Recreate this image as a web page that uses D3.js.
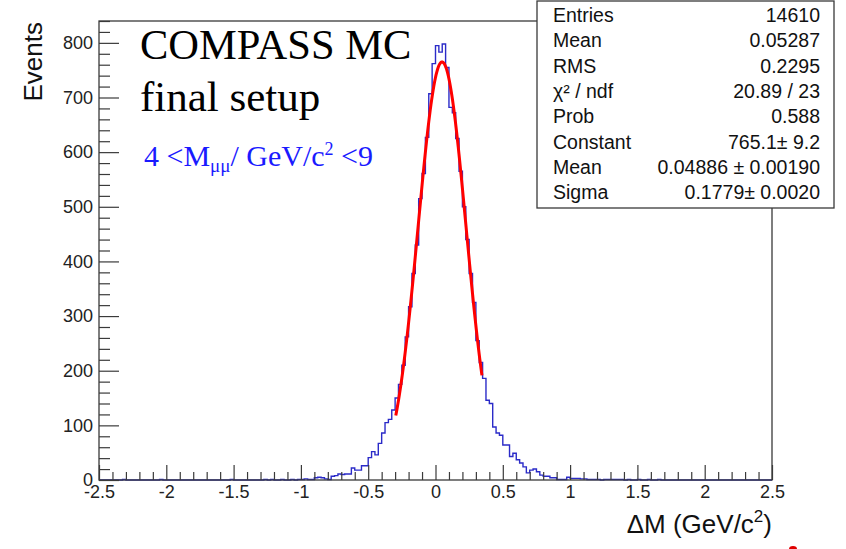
<!DOCTYPE html>
<html>
<head>
<meta charset="utf-8">
<script src="https://cdn.jsdelivr.net/npm/d3@7"></script>
<style>
  body { margin: 0; background: #fff; }
  svg text { font-family: "Liberation Sans", Arial, sans-serif; }
  .serif { font-family: "Liberation Serif", "Times New Roman", serif !important; }
</style>
</head>
<body>
<div id="chart"></div>
<script>
// histogram: 200 bins of width 0.025 from -2.5 to 2.5
const binStart = -2.5, binWidth = 0.025;
const counts = [
  0,0,0,0,0,0,0,1,0,0, 0,0,0,0,0,0,0,0,1,0,
  0,0,0,0,0,0,0,0,0,0, 0,0,0,0,0,0,0,0,0,1,
  0,0,0,0,0,0,0,0,0,1, 0,1,0,0,1,0,0,1,0,1,
  1,2,1,1,4,5,4,2,1,7, 8,11,10,11,11,22,18,18,26,26,
  41,52,46,67,86,105,111,128,150,175, 210,262,317,378,430,515,561,627,707,762,
  795,783,798,755,682,672,625,565,500,440, 378,325,255,215,186,146,140,97,86,82,
  64,64,43,49,37,31,24,13,18,20, 15,9,7,7,4,4,1,1,1,5,
  3,3,3,2,2,1,1,1,1,0, 1,1,1,1,1,1,0,1,0,0,
  1,0,0,1,0,0,1,0,0,0, 0,0,0,0,0,0,0,0,0,0,
  0,0,0,0,0,0,0,0,0,0, 0,0,0,0,0,0,0,0,0,0
];

const xTicks = [-2.5, -2, -1.5, -1, -0.5, 0, 0.5, 1, 1.5, 2, 2.5];
const yTicks = [0, 100, 200, 300, 400, 500, 600, 700, 800];

// stats box
const statLabels = ["Entries", "Mean", "RMS", "\u03c7\u00b2 / ndf", "Prob", "Constant", "Mean", "Sigma"];
const statValues = ["14610", "0.05287", "0.2295", "20.89 / 23", "0.588",
                    "765.1\u00b1 9.2", "0.04886 \u00b1 0.00190", "0.1779\u00b1 0.0020"];

// gaussian fit result
const fitConstant = 765.1, fitMean = 0.04886, fitSigma = 0.1779;
const fitRange = [-0.295, 0.345];

const W = 846, H = 549;
const margin = {top: 21, right: 74, bottom: 69, left: 99};
const x0 = margin.left, x1 = W - margin.right, y0 = H - margin.bottom, y1 = margin.top;

const x = d3.scaleLinear().domain([-2.5, 2.5]).range([x0, x1]);
const y = d3.scaleLinear().domain([0, 840]).range([y0, y1]);

const svg = d3.select("#chart").append("svg")
    .attr("width", W).attr("height", H);

// histogram outline
const pts = [[binStart, 0]];
counts.forEach((c, i) => {
  const lo = binStart + i * binWidth;
  pts.push([lo, c], [lo + binWidth, c]);
});
pts.push([binStart + counts.length * binWidth, 0]);

svg.append("path")
    .datum(pts)
    .attr("fill", "none")
    .attr("stroke", "#2b2bc8")
    .attr("stroke-width", 1.4)
    .attr("d", d3.line().x(d => x(d[0])).y(d => y(d[1])));

// fit curve
const gaus = v => fitConstant * Math.exp(-0.5 * Math.pow((v - fitMean) / fitSigma, 2));
const fitPts = d3.range(0, 121).map(i => {
  const v = fitRange[0] + (fitRange[1] - fitRange[0]) * i / 120;
  return [v, gaus(v)];
});
svg.append("path")
    .datum(fitPts)
    .attr("fill", "none")
    .attr("stroke", "#ff0000")
    .attr("stroke-width", 3)
    .attr("d", d3.line().x(d => x(d[0])).y(d => y(d[1])));

// frame
svg.append("rect")
    .attr("x", x0).attr("y", y1)
    .attr("width", x1 - x0).attr("height", y0 - y1)
    .attr("fill", "none").attr("stroke", "#3a3a3a").attr("stroke-width", 1.3);

// axes (ticks inside the frame, ROOT style)
const yMinor = d3.range(0, 841, 20).filter(v => v % 100 !== 0);
const xMinor = d3.range(-25, 26, 1).map(v => v / 10).filter(v => Math.abs(v * 2 - Math.round(v * 2)) > 1e-6);

svg.append("g")
    .attr("transform", `translate(${x0},0)`)
    .call(d3.axisLeft(y).tickValues(yTicks).tickSizeInner(-20).tickSizeOuter(0).tickPadding(6));
svg.append("g")
    .attr("transform", `translate(${x0},0)`)
    .call(d3.axisLeft(y).tickValues(yMinor).tickSizeInner(-11).tickSizeOuter(0).tickFormat(""));

svg.append("g")
    .attr("transform", `translate(0,${y0})`)
    .call(d3.axisBottom(x).tickValues(xTicks).tickSizeInner(-15).tickSizeOuter(0).tickPadding(5)
      .tickFormat(d => String(d)));
svg.append("g")
    .attr("transform", `translate(0,${y0})`)
    .call(d3.axisBottom(x).tickValues(xMinor).tickSizeInner(-8).tickSizeOuter(0).tickFormat(""));

svg.selectAll(".domain").remove();
svg.selectAll(".tick line").attr("stroke", "#3a3a3a").attr("stroke-width", 1.2);
svg.selectAll(".tick text").attr("font-size", 18).attr("fill", "#222");

// axis titles
svg.append("text")
    .attr("transform", "translate(42,22) rotate(-90)")
    .attr("text-anchor", "end")
    .attr("font-size", 26)
    .attr("fill", "#111")
    .text("Events");

const xt = svg.append("text")
    .attr("x", x1).attr("y", 533)
    .attr("text-anchor", "end")
    .attr("font-size", 26)
    .attr("fill", "#111");
xt.append("tspan").text("\u0394M (GeV/c");
xt.append("tspan").attr("font-size", 17).attr("dy", -11).text("2");
xt.append("tspan").attr("dy", 11).text(")");

// labels inside the pad
svg.append("text").attr("class", "serif")
    .attr("x", 140).attr("y", 59)
    .attr("font-size", 42.5).attr("fill", "#000")
    .text("COMPASS MC");
svg.append("text").attr("class", "serif")
    .attr("x", 140).attr("y", 111)
    .attr("font-size", 43).attr("fill", "#000")
    .text("final setup");

const bl = svg.append("text").attr("class", "serif")
    .attr("x", 144).attr("y", 166)
    .attr("font-size", 30).attr("fill", "#1a1aff");
bl.append("tspan").text("4 <M");
bl.append("tspan").attr("font-size", 19).attr("dy", 6).text("\u03bc\u03bc");
bl.append("tspan").attr("dy", -6).text("/ GeV/c");
bl.append("tspan").attr("font-size", 18).attr("dy", -11).text("2");
bl.append("tspan").attr("dy", 11).text(" <9");

// stats box
const box = {x: 537, y: 1, w: 297, h: 207};
svg.append("rect")
    .attr("x", box.x).attr("y", box.y)
    .attr("width", box.w).attr("height", box.h)
    .attr("fill", "#fff").attr("stroke", "#3a3a3a").attr("stroke-width", 1.3);

const rowH = 25.3;
const stats = svg.append("g");
statLabels.forEach((lab, i) => {
  const ty = box.y + 21 + i * rowH;
  stats.append("text")
      .attr("x", box.x + 16).attr("y", ty)
      .attr("font-size", 19.5).attr("fill", "#111")
      .text(lab);
  stats.append("text")
      .attr("x", box.x + box.w - 14).attr("y", ty)
      .attr("text-anchor", "end")
      .attr("font-size", 19.5).attr("fill", "#111")
      .text(statValues[i]);
});

// small red fragment cut off at the bottom edge
svg.append("ellipse")
    .attr("cx", 793).attr("cy", 549).attr("rx", 4).attr("ry", 3)
    .attr("fill", "#e00000");
</script>
</body>
</html>
